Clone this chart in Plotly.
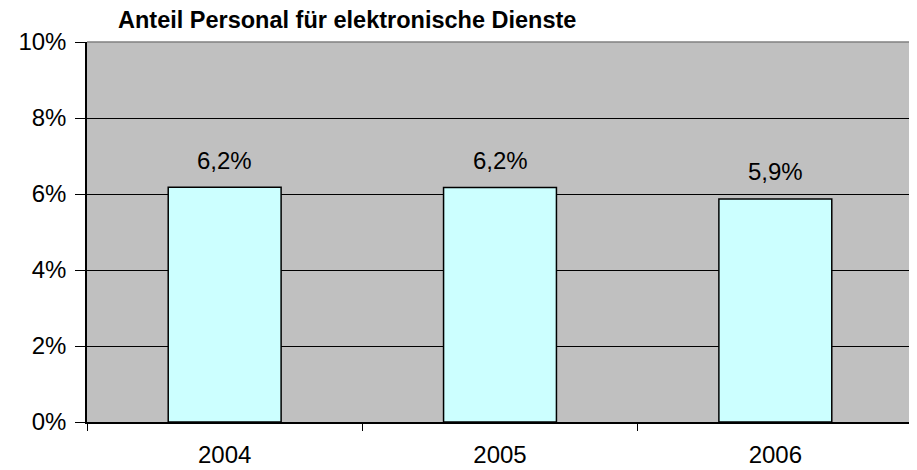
import plotly.graph_objects as go

years = ["2004", "2005", "2006"]
shares = [0.0618, 0.0617, 0.0587]
labels = ["6,2%", "6,2%", "5,9%"]
title_text = "Anteil Personal für elektronische Dienste"

FONT = "Liberation Sans, Arial, sans-serif"
pos = list(range(len(years)))

# page body has an 8px default margin, so the figure is drawn 8px in
W, H = 909, 462

fig = go.Figure()
fig.add_trace(go.Bar(
    x=pos, y=shares, width=0.41,
    marker=dict(color="#CCFFFF", line=dict(color="black", width=1.5)),
    hoverinfo="skip",
))

for x, y, t in zip(pos, shares, labels):
    fig.add_annotation(x=x, y=y, text=t, showarrow=False, yshift=27,
                       font=dict(family=FONT, size=24, color="black"))

fig.add_shape(type="line", xref="paper", yref="paper", x0=0, x1=1, y0=1, y1=1,
              line=dict(color="#808080", width=1.5), layer="above")
fig.add_shape(type="line", xref="paper", yref="paper", x0=1, x1=1, y0=0, y1=1,
              line=dict(color="#808080", width=1.5), layer="above")

fig.update_layout(
    width=W, height=H,
    margin=dict(l=79, r=4, t=34, b=48, autoexpand=False),
    paper_bgcolor="white", plot_bgcolor="#C0C0C0",
    showlegend=False,
    separators=",.",
    font=dict(family=FONT, size=24, color="black"),
    title=dict(text="<b>" + title_text + "</b>", x=110/W, xanchor="left",
               y=1 - 12/H, yanchor="middle",
               font=dict(family=FONT, size=23.5, color="black")),
    xaxis=dict(range=[-0.5, len(years) - 0.5], tickmode="array", tickvals=pos,
               ticktext=years, showline=True, linecolor="black", linewidth=1.5,
               ticks="", showgrid=False, zeroline=False, ticklabelstandoff=10,
               automargin=False,
               minor=dict(tick0=-0.5, dtick=1, ticks="outside", ticklen=7,
                          tickcolor="black", tickwidth=1, showgrid=False),
               tickfont=dict(family=FONT, size=24)),
    yaxis=dict(range=[0, 0.1], tickvals=[0, 0.02, 0.04, 0.06, 0.08, 0.1],
               tickformat=".0%", showline=True, linecolor="black", linewidth=1.5,
               ticks="outside", ticklen=10, tickcolor="black", tickwidth=1,
               showgrid=True, gridcolor="black", gridwidth=1, zeroline=False,
               automargin=False, ticklabelstandoff=4,
               tickfont=dict(family=FONT, size=24)),
)

fig.write_html("out.html")
